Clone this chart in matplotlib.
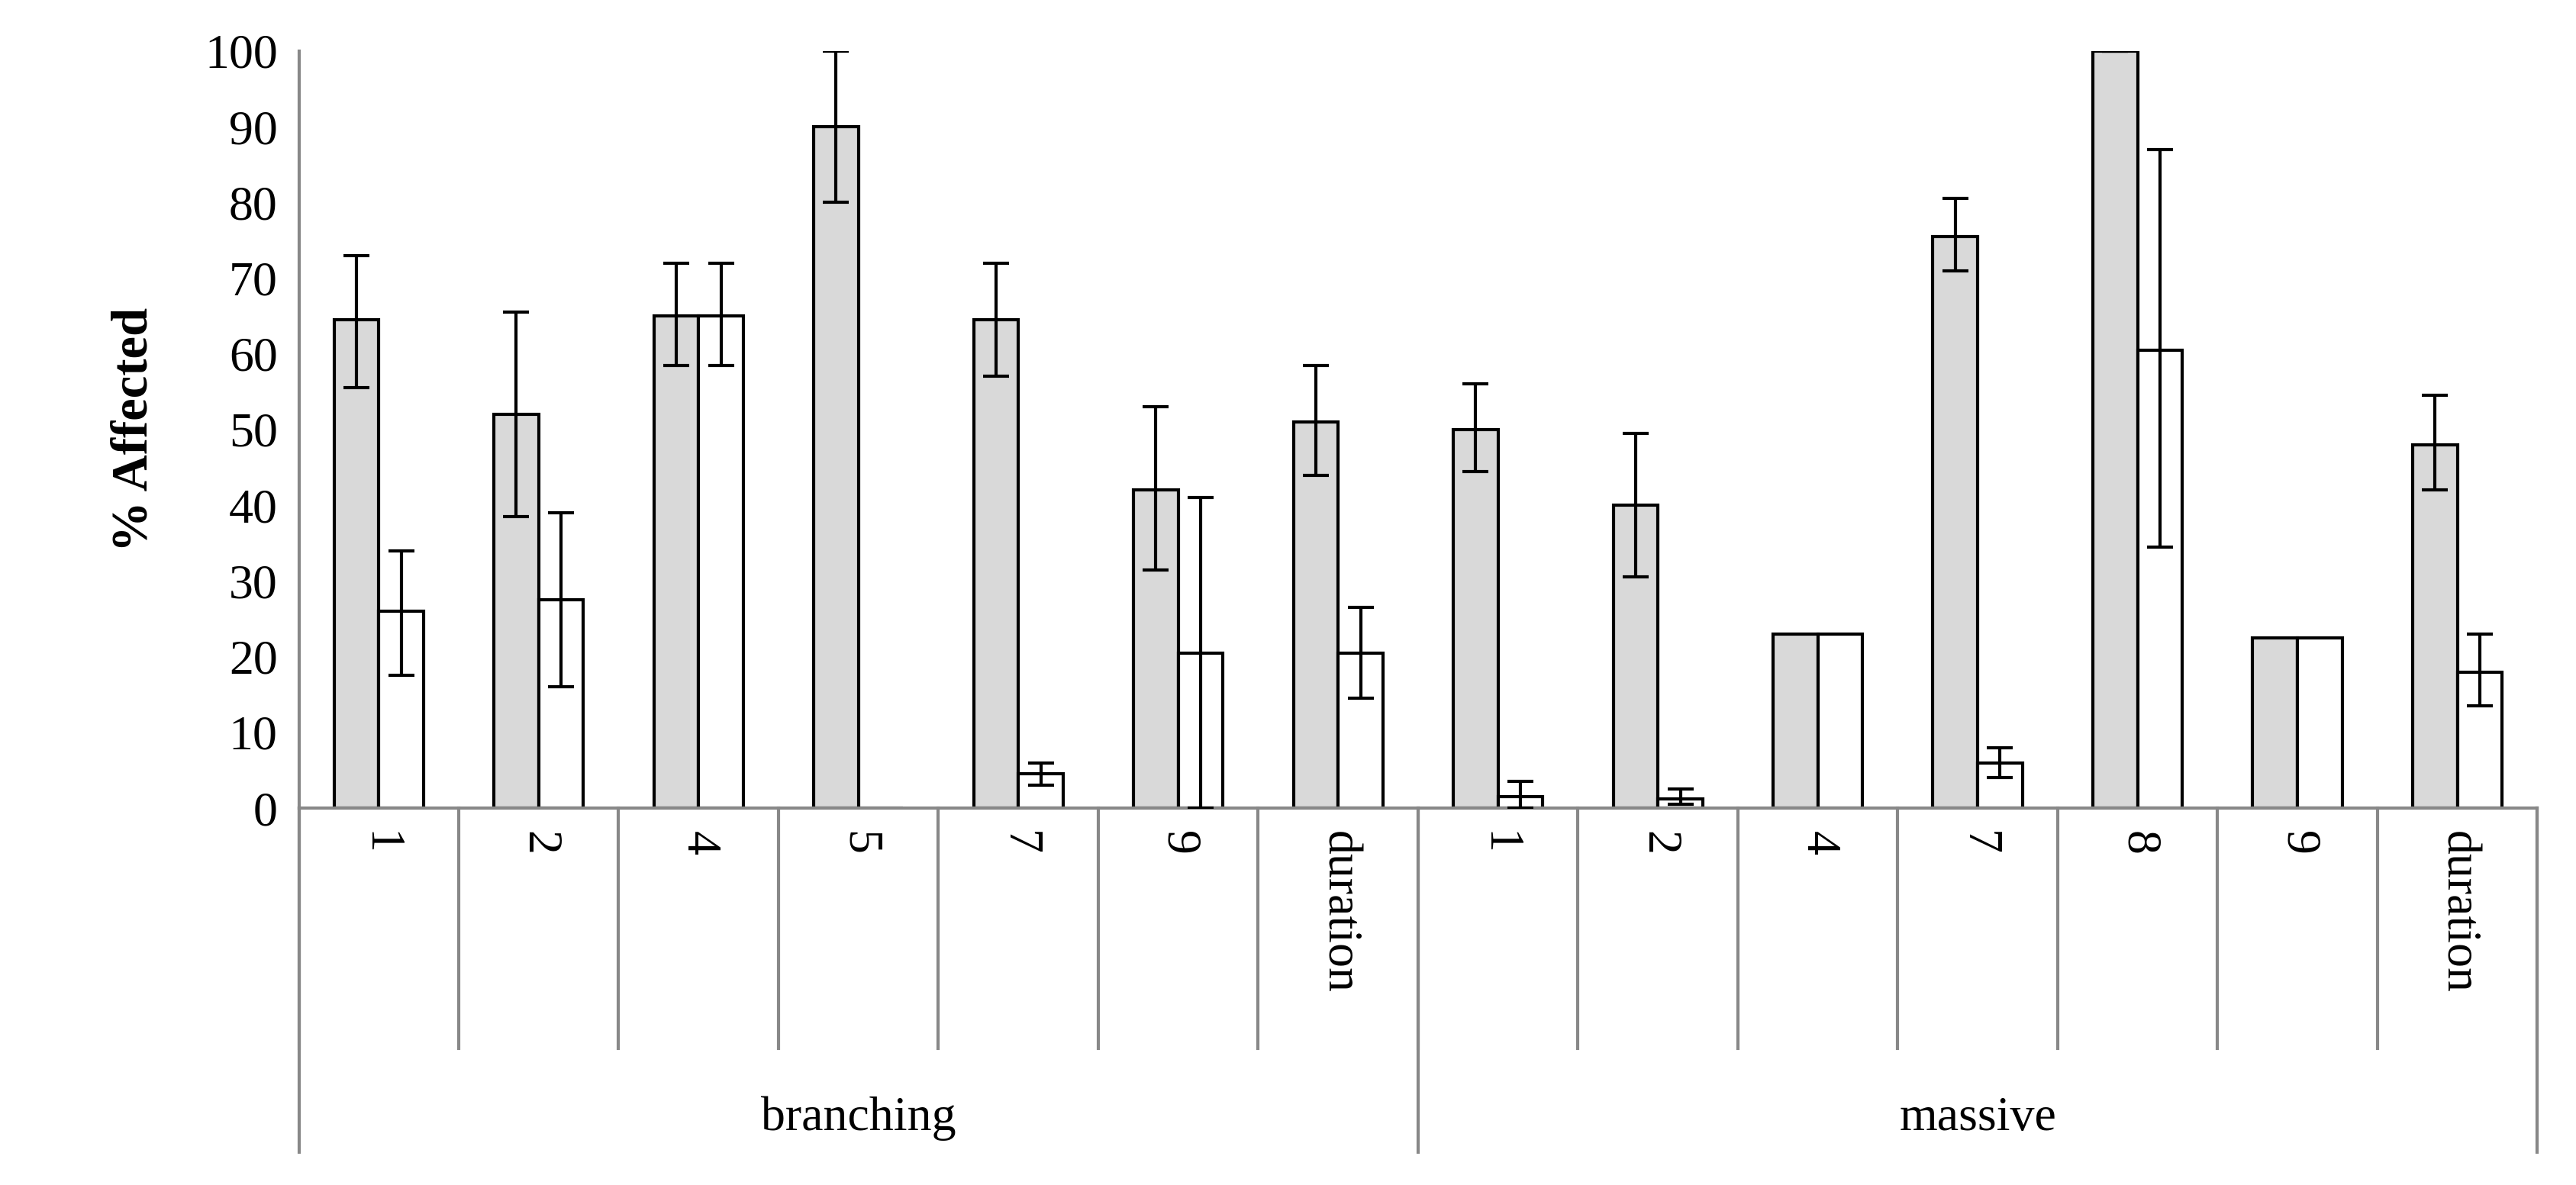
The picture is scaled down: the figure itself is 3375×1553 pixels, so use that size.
import numpy as np
import matplotlib.pyplot as plt

plt.rcParams['font.family'] = ['Liberation Serif', 'DejaVu Serif']

# categories
categories = ['1', '2', '4', '5', '7', '9', 'duration',
              '1', '2', '4', '7', '8', '9', 'duration']
groups = ['branching', 'massive']
group_sizes = [7, 7]

# gray series (value, low, high)
gray = [64.5, 52, 65, 90, 64.5, 42, 51, 50, 40, 23, 75.5, 100, 22.5, 48]
gray_lo = [55.5, 38.5, 58.5, 80, 57, 31.5, 44, 44.5, 30.5, 23, 71, 100, 22.5, 42]
gray_hi = [73, 65.5, 72, 100, 72, 53, 58.5, 56, 49.5, 23, 80.5, 100, 22.5, 54.5]

# white series
white = [26, 27.5, 65, 0, 4.5, 20.5, 20.5, 1.5, 1.2, 23, 6, 60.5, 22.5, 18]
white_lo = [17.5, 16, 58.5, 0, 3, 0, 14.5, 0, 0.5, 23, 4, 34.5, 22.5, 13.5]
white_hi = [34, 39, 72, 0, 6, 41, 26.5, 3.5, 2.5, 23, 8, 87, 22.5, 23]
white_has_err = [True, True, True, False, True, True, True,
                 True, True, False, True, True, False, True]
gray_has_err = [True, True, True, True, True, True, True,
                True, True, False, True, True, False, True]

fig, ax = plt.subplots(figsize=(16.875, 7.765), dpi=200)
fig.subplots_adjust(left=0.116, right=0.985, top=0.957, bottom=0.318)

x = np.arange(len(categories))
w = 0.28
g = np.array(gray)
wh = np.array(white)
ax.bar(x - w / 2, g, w, color='#d9d9d9', edgecolor='black', linewidth=1.5, zorder=2)
ax.bar(x + w / 2, wh, w, color='white', edgecolor='black', linewidth=1.5, zorder=2)

for i in range(len(x)):
    if gray_has_err[i]:
        ax.errorbar(x[i] - w / 2, g[i], yerr=[[g[i] - gray_lo[i]], [gray_hi[i] - g[i]]],
                    fmt='none', ecolor='black', elinewidth=1.5, capsize=6, capthick=1.5, zorder=3)
    if white_has_err[i]:
        ax.errorbar(x[i] + w / 2, wh[i], yerr=[[wh[i] - white_lo[i]], [white_hi[i] - wh[i]]],
                    fmt='none', ecolor='black', elinewidth=1.5, capsize=6, capthick=1.5, zorder=3)

ax.set_xlim(-0.5, len(categories) - 0.5)
ax.set_ylim(0, 100)
ax.set_yticks(range(0, 101, 10))
ax.tick_params(axis='y', labelsize=23, length=0, pad=10)
ax.set_xticks([])
for s in ['top', 'right']:
    ax.spines[s].set_visible(False)
ax.spines['left'].set_color('#888888')
ax.spines['bottom'].set_color('#888888')
ax.spines['left'].set_linewidth(1.5)
ax.spines['bottom'].set_linewidth(1.5)
ax.set_ylabel('% Affected', fontsize=24, fontweight='bold', labelpad=22)

# category labels and separators below axis
for i, c in enumerate(categories):
    ax.text(x[i], -3, c, rotation=-90, ha='center', va='top', fontsize=23, clip_on=False)
for b in range(len(categories) + 1):
    ax.plot([b - 0.5, b - 0.5], [0, -31.7], color='#888888', lw=1.5, clip_on=False)
start = 0
for name, n in zip(groups, group_sizes):
    ax.plot([start - 0.5, start - 0.5], [0, -45.4], color='#888888', lw=1.5, clip_on=False)
    ax.text(start - 0.5 + n / 2, -41, name, ha='center', va='center', fontsize=23, clip_on=False)
    start += n
ax.plot([start - 0.5, start - 0.5], [0, -45.4], color='#888888', lw=1.5, clip_on=False)

fig.savefig('out.png')
